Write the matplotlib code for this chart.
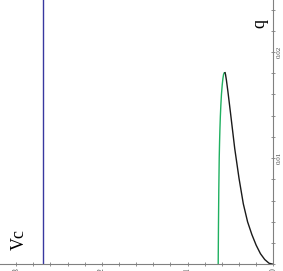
import numpy as np
import matplotlib
matplotlib.use('Agg')
import matplotlib.pyplot as plt
from matplotlib.ticker import MultipleLocator

vc_blue = [2.69, 2.69]
q_blue = [0.0, 0.0249]

# lower branch (black), from the origin up to the turning point
vc_black = [0.0, 0.05, 0.10, 0.15, 0.20, 0.25, 0.30, 0.35, 0.40, 0.45,
            0.50, 0.53, 0.548, 0.558, 0.564]
q_black = [0.0, 0.0001, 0.00045, 0.001, 0.0018, 0.0028, 0.0040, 0.0057, 0.0081, 0.0109,
           0.0143, 0.0163, 0.0174, 0.0179, 0.01805]

# upper branch (green), from the turning point back down to q = 0
vc_green = [0.564, 0.572, 0.580, 0.588, 0.596, 0.605, 0.612, 0.618, 0.623, 0.627,
            0.631, 0.636, 0.640, 0.643]
q_green = [0.01805, 0.01805, 0.0179, 0.0175, 0.0169, 0.0160, 0.0150, 0.0139, 0.0127, 0.0115,
           0.0100, 0.0070, 0.0035, 0.0]

vc_ticks = [0, 1, 2, 3]
q_ticks = [0.01, 0.02]
q_labels = ['0.01', '0.02']

serif = ['Liberation Serif', 'DejaVu Serif']

fig = plt.figure(figsize=(2.83, 2.71), dpi=100)
ax = fig.add_axes([0, 6.7 / 271, 273.3 / 283, 264.3 / 271])

ax.plot(vc_blue, q_blue, color='#3838a0', lw=1.0)
ax.plot(vc_green, q_green, color='#1fb060', lw=1.0)
ax.plot(vc_black, q_black, color='#1a1a1a', lw=1.0)

ax.set_xlim(273.3 / 85.7, 0)
ax.set_ylim(0, 0.0249)

for s in ['left', 'top']:
    ax.spines[s].set_visible(False)
for s in ['right', 'bottom']:
    ax.spines[s].set_color('#808080')
    ax.spines[s].set_linewidth(0.8)

ax.yaxis.tick_right()
ax.set_xticks(vc_ticks)
ax.set_xticklabels([str(v) for v in vc_ticks], rotation=90, family=serif,
                   fontsize=5.5, color='#444444')
ax.set_yticks(q_ticks)
ax.set_yticklabels(q_labels, rotation=90, family=serif, fontsize=5,
                   color='#444444', va='center')
ax.xaxis.set_minor_locator(MultipleLocator(0.2))
ax.yaxis.set_minor_locator(MultipleLocator(0.002))
ax.tick_params(which='both', direction='inout', length=3, width=0.6,
               color='#808080')
ax.tick_params(axis='y', pad=0.8)
ax.tick_params(axis='x', pad=1.5)

ax.text(19 / 273.3, (264.3 - 240) / 264.3, 'Vc', transform=ax.transAxes,
        rotation=90, ha='center', va='center', family=serif, fontsize=13)
ax.text(260 / 273.3, (264.3 - 23) / 264.3, 'q', transform=ax.transAxes,
        rotation=90, ha='center', va='center', family=serif, fontsize=13)

fig.savefig('out.png', dpi=100)
